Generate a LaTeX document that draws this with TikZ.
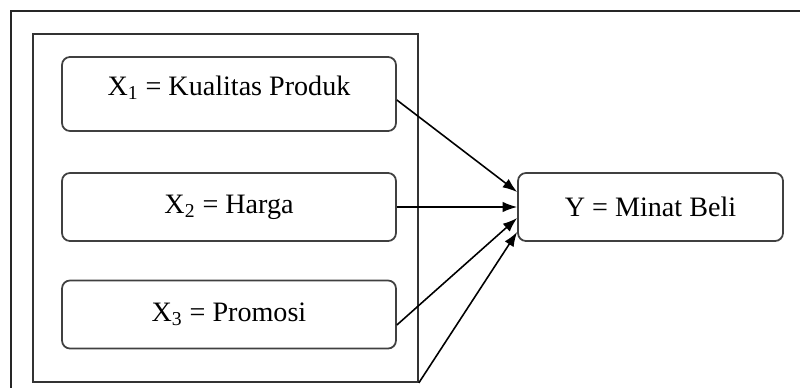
\documentclass[tikz,border=0pt]{standalone}
\usepackage{fontspec}
\setmainfont{Liberation Serif}
\usepackage{tikz}
\usetikzlibrary{arrows.meta,positioning}

\begin{document}
\begin{tikzpicture}[
  x=0.02cm, y=-0.02cm,
  box/.style={draw=black!75, line width=1pt, rounded corners=4.5pt,
    minimum width=6.68cm, minimum height=1.36cm, inner sep=0pt,
    font=\fontsize{16}{19}\selectfont},
  group/.style={draw=black!80, line width=1pt, minimum width=7.7cm,
    minimum height=6.96cm, inner sep=0pt},
  arr/.style={-{Latex[length=2.9mm,width=2.1mm]}, line width=0.9pt},
]
\useasboundingbox (0,0) rectangle (800,388);
\clip (0,0) rectangle (800,388);

% page frame
\draw[line width=1.1pt, black!85] (11,11) rectangle (830,420);

% independent variables
\node[group] (grp) at (225.5,208) {};
\node[box, minimum height=1.48cm, text depth=0.35cm] (x1) at (229,94) {X\textsubscript{1} = Kualitas Produk};
\node[box] (x2) at (229,207) {X\textsubscript{2} = Harga};
\node[box] (x3) at (229,314.5) {X\textsubscript{3} = Promosi};

% dependent variable
\node[box, minimum width=5.3cm] (y) at (650.5,207) {Y = Minat Beli};

\draw[arr] ([yshift=-0.12cm]x1.east) -- ([yshift=0.3cm]y.west);
\draw[arr] (x2.east) -- (y.west);
\draw[arr] ([yshift=-0.21cm]x3.east) -- ([yshift=-0.22cm]y.west);
\draw[arr] (grp.south east) -- ([yshift=-0.5cm]y.west);

\end{tikzpicture}
\end{document}
